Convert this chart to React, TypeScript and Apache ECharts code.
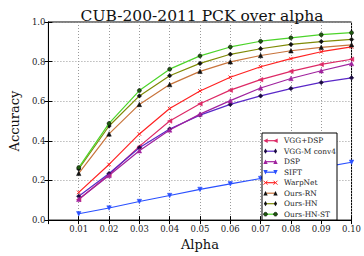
import React, { useEffect, useRef } from "react";
import * as echarts from "echarts";

const alpha = [0.01, 0.02, 0.03, 0.04, 0.05, 0.06, 0.07, 0.08, 0.09, 0.1];
const vggDsp = [0.104, 0.23, 0.372, 0.5, 0.587, 0.656, 0.709, 0.751, 0.786, 0.812];
const vggMConv4 = [0.12, 0.235, 0.365, 0.46, 0.53, 0.584, 0.627, 0.664, 0.695, 0.718];
const dsp = [0.105, 0.225, 0.35, 0.455, 0.535, 0.603, 0.667, 0.715, 0.754, 0.79];
const sift = [0.032, 0.061, 0.094, 0.124, 0.155, 0.183, 0.21, 0.237, 0.265, 0.292];
const warpNet = [0.14, 0.281, 0.435, 0.563, 0.652, 0.721, 0.774, 0.815, 0.85, 0.874];
const oursRN = [0.236, 0.435, 0.584, 0.684, 0.751, 0.799, 0.831, 0.855, 0.872, 0.885];
const oursHN = [0.258, 0.475, 0.627, 0.729, 0.791, 0.837, 0.865, 0.887, 0.901, 0.912];
const oursHNST = [0.265, 0.488, 0.654, 0.762, 0.829, 0.874, 0.903, 0.92, 0.936, 0.946];

const seriesNames = ["VGG+DSP", "VGG-M conv4", "DSP", "SIFT", "WarpNet", "Ours-RN", "Ours-HN", "Ours-HN-ST"];
const seriesData = [vggDsp, vggMConv4, dsp, sift, warpNet, oursRN, oursHN, oursHNST];
const lineColors = ["#dd2a66", "#5a28c8", "#a0229e", "#2a50ff", "#ff2222", "#c8743c", "#7f8a06", "#4cd42a"];
const markerKinds = ["tri-left", "diamond", "tri-up", "tri-down", "x", "tri-up", "diamond", "circle"];
const markerFills = ["#dd2a66", "#1a0a40", "#a0229e", "#2a50ff", "#ff2222", "#111111", "#111111", "#1f5a10"];

const yTicks = [0, 0.2, 0.4, 0.6, 0.8, 1.0];
const FONT = "DejaVu Serif";

function symbolFor(kind: string): { symbol: string; rotate: number; size: number } {
  switch (kind) {
    case "tri-left":
      return { symbol: "triangle", rotate: 90, size: 4.5 };
    case "tri-up":
      return { symbol: "triangle", rotate: 0, size: 4.5 };
    case "tri-down":
      return { symbol: "triangle", rotate: 180, size: 4.5 };
    case "diamond":
      return { symbol: "diamond", rotate: 0, size: 4.5 };
    case "x":
      return { symbol: "path://M0,0L10,10M10,0L0,10", rotate: 0, size: 3.5 };
    default:
      return { symbol: "circle", rotate: 0, size: 4 };
  }
}

function legendMarker(kind: string, cx: number, cy: number, fill: string): any {
  const r = 2.2;
  if (kind === "circle") {
    return { type: "circle", shape: { cx, cy, r: 1.9 }, style: { fill, stroke: "#000", lineWidth: 0.6 }, z: 102 };
  }
  if (kind === "diamond") {
    return {
      type: "polygon",
      shape: { points: [[cx, cy - r - 0.4], [cx + r - 0.6, cy], [cx, cy + r + 0.4], [cx - r + 0.6, cy]] },
      style: { fill },
      z: 102,
    };
  }
  if (kind === "x") {
    return {
      type: "group",
      z: 102,
      children: [
        { type: "line", shape: { x1: cx - 2, y1: cy - 2, x2: cx + 2, y2: cy + 2 }, style: { stroke: fill, lineWidth: 1 }, z: 102 },
        { type: "line", shape: { x1: cx - 2, y1: cy + 2, x2: cx + 2, y2: cy - 2 }, style: { stroke: fill, lineWidth: 1 }, z: 102 },
      ],
    };
  }
  let pts: number[][];
  if (kind === "tri-left") pts = [[cx - r, cy], [cx + r, cy - r], [cx + r, cy + r]];
  else if (kind === "tri-down") pts = [[cx, cy + r], [cx - r, cy - r], [cx + r, cy - r]];
  else pts = [[cx, cy - r], [cx - r, cy + r], [cx + r, cy + r]];
  return { type: "polygon", shape: { points: pts }, style: { fill }, z: 102 };
}

export default function App() {
  const ref = useRef<HTMLDivElement>(null);
  useEffect(() => {
    if (!ref.current) return;
    const chart = echarts.init(ref.current, null, { renderer: "svg" });

    const series = seriesNames.map((name, i) => {
      const s = symbolFor(markerKinds[i]);
      return {
        name,
        type: "line",
        data: alpha.map((a, j) => [a, seriesData[i][j]]),
        symbol: s.symbol,
        symbolRotate: s.rotate,
        symbolSize: s.size,
        showSymbol: true,
        lineStyle: { color: lineColors[i], width: 1.2 },
        itemStyle: {
          color: markerFills[i],
          borderColor: markerKinds[i] === "x" ? markerFills[i] : markerKinds[i] === "circle" ? "#000" : markerFills[i],
          borderWidth: markerKinds[i] === "x" ? 1 : 0.5,
        },
        z: 3 + i,
      };
    });

    const lx = 262, ly = 133, lw = 75, lh = 87;
    const legendEls: any[] = [
      { type: "rect", shape: { x: lx, y: ly, width: lw, height: lh }, style: { fill: "#fff", stroke: "#000", lineWidth: 1 }, z: 100 },
    ];
    seriesNames.forEach((name, i) => {
      const cy = 140.7 + i * 10.5;
      legendEls.push({
        type: "line",
        shape: { x1: 265.5, y1: cy, x2: 275.5, y2: cy },
        style: { stroke: lineColors[i], lineWidth: 1.2 },
        z: 101,
      });
      legendEls.push(legendMarker(markerKinds[i], 265.5, cy, markerFills[i]));
      legendEls.push(legendMarker(markerKinds[i], 275.5, cy, markerFills[i]));
      legendEls.push({
        type: "text",
        x: 284,
        y: cy,
        style: { text: name, font: `7.4px "${FONT}"`, fill: "#222", verticalAlign: "middle", align: "left" },
        z: 102,
      });
    });

    const tickStyle = { inside: true, length: 4, lineStyle: { color: "#000", width: 1 } };

    chart.setOption({
      animation: false,
      backgroundColor: "#fff",
      title: {
        text: "CUB-200-2011 PCK over alpha",
        left: 197,
        top: 3,
        textAlign: "center",
        textStyle: { fontFamily: FONT, fontSize: 15.5, fontWeight: "normal", color: "#111" },
      },
      grid: { left: 42, right: 11, top: 22, bottom: 25, show: true, borderColor: "#000", borderWidth: 1, backgroundColor: "transparent" },
      xAxis: [
        {
          type: "value",
          min: 0,
          max: 0.1,
          interval: 0.01,
          name: "Alpha",
          nameLocation: "middle",
          nameGap: 11,
          nameTextStyle: { fontFamily: FONT, fontSize: 13, color: "#111" },
          axisLine: { show: true, lineStyle: { color: "#000" } },
          axisTick: tickStyle,
          axisLabel: {
            fontFamily: FONT,
            fontSize: 8.5,
            color: "#222",
            margin: 4,
            formatter: (v: number) => (v === 0 ? "" : v.toFixed(2)),
          },
          splitLine: { show: true, lineStyle: { type: [1, 2], color: "#999", width: 1 } },
        },
        {
          type: "value",
          position: "top",
          min: 0,
          max: 0.1,
          interval: 0.01,
          axisLine: { show: true, lineStyle: { color: "#000" } },
          axisTick: tickStyle,
          axisLabel: { show: false },
          splitLine: { show: false },
        },
      ],
      yAxis: [
        {
          type: "value",
          min: yTicks[0],
          max: yTicks[yTicks.length - 1],
          interval: 0.2,
          name: "Accuracy",
          nameLocation: "middle",
          nameGap: 26,
          nameTextStyle: { fontFamily: FONT, fontSize: 13, color: "#111" },
          axisLine: { show: true, lineStyle: { color: "#000" } },
          axisTick: tickStyle,
          axisLabel: { fontFamily: FONT, fontSize: 8.5, color: "#222", margin: 3, formatter: (v: number) => v.toFixed(1) },
          splitLine: { show: true, lineStyle: { type: [1, 2], color: "#999", width: 1 } },
        },
        {
          type: "value",
          position: "right",
          min: 0,
          max: 1,
          interval: 0.2,
          axisLine: { show: true, lineStyle: { color: "#000" } },
          axisTick: tickStyle,
          axisLabel: { show: false },
          splitLine: { show: false },
        },
      ],
      series,
      graphic: legendEls,
    });
    return () => chart.dispose();
  }, []);
  return <div ref={ref} style={{ position: "absolute", left: 0, top: 0, width: 364, height: 256 }} />;
}
